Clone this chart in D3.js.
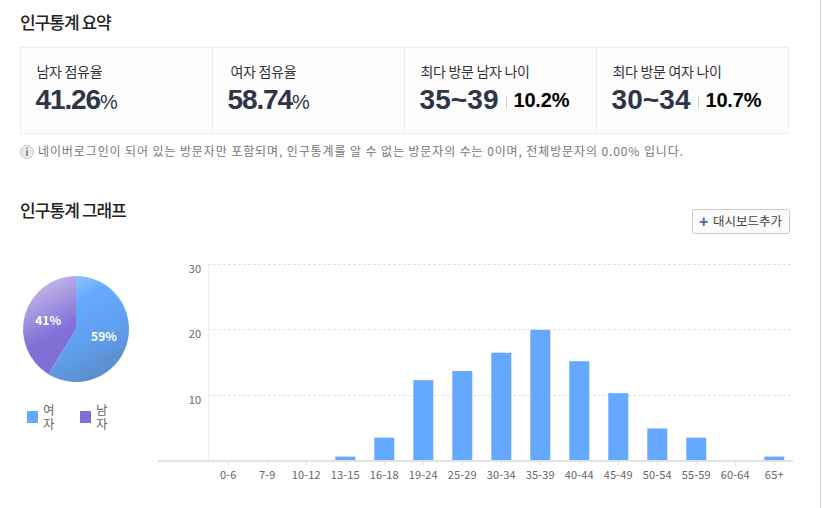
<!DOCTYPE html>
<html>
<head>
<meta charset="utf-8">
<script src="https://d3js.org/d3.v7.min.js"></script>
<style>
  html, body { margin: 0; padding: 0; background: #fff; overflow: hidden; }
  #chart { position: relative; width: 822px; height: 508px; }
  svg { display: block; }
  text { font-family: "Noto Sans CJK KR", "Noto Sans", sans-serif; }
  .num { font-family: "Liberation Sans", Arial, sans-serif; font-weight: 700; }
  .grid line { stroke: #e3e3e3; stroke-dasharray: 3 2; }
  .tick text { fill: #666; font-size: 11px; }
  .legend-name {
    position: absolute; top: 403px; width: 13px;
    font: 12.5px/14px "Noto Sans CJK KR", sans-serif; color: #666;
    word-break: break-all;
  }
</style>
</head>
<body>
<div id="chart"></div>
<script>
// bar chart: share of visitors per age group
var ageGroups = ["0-6","7-9","10-12","13-15","16-18","19-24","25-29","30-34","35-39","40-44","45-49","50-54","55-59","60-64","65+"];
var ageShare = [0, 0, 0, 0.6, 3.5, 12.3, 13.7, 16.5, 20, 15.2, 10.3, 4.9, 3.5, 0, 0.6];
var yTicks = [10, 20, 30];

// pie and legend
var genderNames = ["여자", "남자"];
var genderShare = [58.74, 41.26];
var genderLabels = ["59%", "41%"];

// summary cards
var cardTitles = ["남자 점유율", "여자 점유율", "최다 방문 남자 나이", "최다 방문 여자 나이"];
var cardValues = ["41.26", "58.74", "35~39", "30~34"];
var cardRates = [null, null, "10.2%", "10.7%"];

var width = 822, height = 508;
var svg = d3.select("#chart").append("svg").attr("width", width).attr("height", height);

// right edge of the page
svg.append("rect").attr("x", 820).attr("y", 0).attr("width", 1).attr("height", height).attr("fill", "#d8d8d8");

// headings
svg.append("text").attr("x", 20).attr("y", 29).attr("font-size", 17).attr("font-weight", 500)
  .attr("letter-spacing", -1).attr("fill", "#222").text("인구통계 요약");
svg.append("text").attr("x", 20).attr("y", 217).attr("font-size", 17).attr("font-weight", 500)
  .attr("letter-spacing", -0.9).attr("fill", "#222").text("인구통계 그래프");

// cards
var cardX = d3.scaleLinear().domain([0, 4]).range([20.5, 788.5]);
svg.append("rect").attr("x", cardX(0)).attr("y", 47.5).attr("width", cardX(4) - cardX(0)).attr("height", 86)
  .attr("fill", "#fdfdfd").attr("stroke", "#eeeeee");
[1, 2, 3].forEach(function(i) {
  svg.append("line").attr("x1", cardX(i)).attr("x2", cardX(i)).attr("y1", 47.5).attr("y2", 133.5).attr("stroke", "#eeeeee");
});
var titlePad = [16, 18, 16, 16];
cardTitles.forEach(function(t, i) {
  svg.append("text").attr("x", cardX(i) + titlePad[i]).attr("y", 77).attr("font-size", 14)
    .attr("letter-spacing", -0.3).attr("fill", "#333").text(t);
  var v = svg.append("text").attr("class", "num").attr("x", cardX(i) + 15).attr("y", 109).attr("font-size", 28)
    .attr("letter-spacing", cardRates[i] == null ? -1.1 : 0.1).attr("fill", "#2f3549").text(cardValues[i]);
  if (cardRates[i] == null) {
    v.append("tspan").attr("font-size", 20).attr("font-weight", 400).attr("letter-spacing", -1).text("%");
  } else {
    svg.append("line").attr("x1", cardX(i) + 102).attr("x2", cardX(i) + 102).attr("y1", 97).attr("y2", 109).attr("stroke", "#cccccc");
    svg.append("text").attr("class", "num").attr("x", cardX(i) + 109).attr("y", 107).attr("font-size", 20)
      .attr("letter-spacing", -0.2).attr("fill", "#000").text(cardRates[i]);
  }
});

// info note
svg.append("circle").attr("cx", 27).attr("cy", 152).attr("r", 6.5).attr("fill", "#ececec").attr("stroke", "#c8c8c8");
svg.append("text").attr("x", 27).attr("y", 156).attr("text-anchor", "middle").attr("font-size", 10)
  .attr("font-weight", 700).attr("fill", "#777").text("i");
svg.append("text").attr("x", 38).attr("y", 156).attr("font-size", 12).attr("fill", "#777")
  .attr("textLength", 645).attr("lengthAdjust", "spacing")
  .text("네이버로그인이 되어 있는 방문자만 포함되며, 인구통계를 알 수 없는 방문자의 수는 0이며, 전체방문자의 0.00% 입니다.");

// dashboard button
svg.append("rect").attr("x", 692.5).attr("y", 209.5).attr("width", 97).attr("height", 24).attr("rx", 2)
  .attr("fill", "#fbfbfb").attr("stroke", "#c9c9c9");
svg.append("text").attr("class", "num").attr("x", 699).attr("y", 227).attr("font-size", 16).attr("fill", "#3a6fb0").text("+");
svg.append("text").attr("x", 713).attr("y", 226).attr("font-size", 12.5).attr("fill", "#444").text("대시보드추가");

// pie, gradients are relative to the pie centre
var defs = svg.append("defs");
function pieGradient(id, stops) {
  var g = defs.append("linearGradient").attr("id", id).attr("gradientUnits", "userSpaceOnUse")
    .attr("x1", -25).attr("y1", -53).attr("x2", 30).attr("y2", 50);
  stops.forEach(function(s) { g.append("stop").attr("offset", s[0]).attr("stop-color", s[1]); });
}
pieGradient("pieFemale", [[0, "#a9d0ff"], [0.3, "#66a9ff"], [0.65, "#5f9fef"], [1, "#5b8ac4"]]);
pieGradient("pieMale", [[0, "#c4b8e8"], [0.45, "#8270d8"], [1, "#7a6acc"]]);

var pieData = d3.pie().sort(null)(genderShare);
var arc = d3.arc().innerRadius(0).outerRadius(53);
var pieG = svg.append("g").attr("transform", "translate(76,329)");
pieG.selectAll("path").data(pieData).enter().append("path")
  .attr("d", arc)
  .attr("fill", function(d, i) { return i == 0 ? "url(#pieFemale)" : "url(#pieMale)"; });
var labelArc = d3.arc().innerRadius(29).outerRadius(29);
pieG.selectAll("text").data(pieData).enter().append("text")
  .attr("transform", function(d) { return "translate(" + labelArc.centroid(d) + ")"; })
  .attr("text-anchor", "middle").attr("dy", 4)
  .attr("font-size", 12).attr("font-weight", 700).attr("fill", "#fff")
  .text(function(d, i) { return genderLabels[i]; });

// legend, names wrap inside a narrow box like the original
var legendColor = ["#64a8ff", "#7f6fd8"];
var legendX = d3.scaleOrdinal().domain(genderNames).range([27, 80]);
genderNames.forEach(function(n, i) {
  svg.append("rect").attr("x", legendX(n)).attr("y", 411).attr("width", 11).attr("height", 12).attr("fill", legendColor[i]);
  d3.select("#chart").append("div").attr("class", "legend-name")
    .style("left", (legendX(n) + 16) + "px").text(n);
});

// bars
var x = d3.scaleBand().domain(ageGroups).range([208.8, 793.8]).paddingInner(0.4872).paddingOuter(0.2436);
var y = d3.scaleLinear().domain([0, 30]).range([460.5, 264.5]);

var grid = svg.append("g").attr("class", "grid");
grid.selectAll("line").data(yTicks).enter().append("line")
  .attr("x1", 208).attr("x2", 794)
  .attr("y1", function(d) { return Math.floor(y(d)) + 0.5; })
  .attr("y2", function(d) { return Math.floor(y(d)) + 0.5; });

svg.append("line").attr("x1", 208.5).attr("x2", 208.5).attr("y1", 264).attr("y2", 460).attr("stroke", "#eeeeee");

svg.append("g").selectAll("rect").data(d3.zip(ageGroups, ageShare)).enter().append("rect")
  .attr("x", function(d) { return x(d[0]); })
  .attr("y", function(d) { return y(d[1]); })
  .attr("width", x.bandwidth())
  .attr("height", function(d) { return y(0) - y(d[1]); })
  .attr("fill", "#64a8ff");

var yAxis = d3.axisLeft(y).tickValues(yTicks).tickSize(0).tickPadding(7);
var yG = svg.append("g").attr("transform", "translate(208,4.5)").call(yAxis);
yG.select(".domain").remove();

var xAxis = d3.axisBottom(x).tickSize(4).tickPadding(6);
var xG = svg.append("g").attr("transform", "translate(0,461)").call(xAxis);
xG.select(".domain").remove();
xG.selectAll(".tick line").attr("stroke", "#dddddd");
xG.selectAll(".tick text").attr("letter-spacing", 0.2);

svg.append("rect").attr("x", 158).attr("y", 460).attr("width", 635).attr("height", 2).attr("fill", "#e2e2e2");
</script>
</body>
</html>
